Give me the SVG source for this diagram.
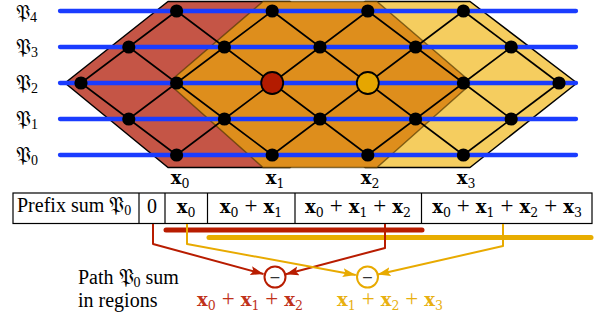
<svg xmlns="http://www.w3.org/2000/svg" width="606" height="322" viewBox="0 0 606 322">
<style>
.lat{fill:none;stroke:#000;stroke-width:1.6;stroke-linejoin:round}
.blue{stroke:#1a3cff;stroke-width:4.3;stroke-linecap:round}
.nd{fill:#000}
.t{font-family:"Liberation Serif","Times New Roman",serif;font-size:20px;fill:#000}
.frak{font-family:"DejaVu Sans","DejaVu Serif","Noto Sans",serif}
.m{font-family:"DejaVu Serif","Liberation Serif",serif;font-size:18px;fill:#000}
.b{font-weight:bold}
.s{font-size:12.5px;font-weight:normal}
.p{font-family:"Liberation Serif",serif;font-size:23px;font-weight:normal}
.cell{fill:#fff;stroke:#000;stroke-width:1.2}
.ar{fill:none;stroke-width:2;stroke-linejoin:round}
</style>
<defs>
<marker id="ahR" markerUnits="userSpaceOnUse" markerWidth="14" markerHeight="10" refX="13" refY="5" orient="auto">
<path d="M0,0.5 L13,5 L0,9.5 L2.5,5 z" fill="#b81c00"/>
</marker>
<marker id="ahY" markerUnits="userSpaceOnUse" markerWidth="14" markerHeight="10" refX="13" refY="5" orient="auto">
<path d="M0,0.5 L13,5 L0,9.5 L2.5,5 z" fill="#e8aa00"/>
</marker>
</defs>
<rect width="606" height="322" fill="#fff"/>

<g id="regions">
<polygon id="region-red" points="65,83 168,1.5 290,1.5 385,83 290,167.5 168,167.5" fill="#c55546" stroke="#000" stroke-width="1.5" stroke-linejoin="round"/>
<polygon id="region-yellow" points="258,83 365,1.5 470,1.5 577,83 470,167.5 365,167.5" fill="#f5cd5f" stroke="#000" stroke-width="1.5" stroke-linejoin="round"/>
<polygon id="region-orange" points="168,83 263,1.5 377,1.5 472,83 377,167.5 263,167.5" fill="#de8e1c" stroke="#4a3400" stroke-opacity="0.65" stroke-width="1.5" stroke-linejoin="round"/>
</g>

<g id="connectors">
<polyline class="lat" points="81,83 128.8,47 176.6,11"/>
<polyline class="lat" points="128.8,119 176.6,83 224.4,47 272.2,11"/>
<polyline class="lat" points="176.6,155 224.4,119 272.2,83 320,47 367.8,11"/>
<polyline class="lat" points="272.2,155 320,119 367.8,83 415.6,47 463.4,11"/>
<polyline class="lat" points="367.8,155 415.6,119 463.4,83 511.2,47"/>
<polyline class="lat" points="463.4,155 511.2,119 559,83"/>
<polyline class="lat" points="81,83 128.8,119 176.6,155"/>
<polyline class="lat" points="128.8,47 176.6,83 224.4,119 272.2,155"/>
<polyline class="lat" points="176.6,11 224.4,47 272.2,83 320,119 367.8,155"/>
<polyline class="lat" points="272.2,11 320,47 367.8,83 415.6,119 463.4,155"/>
<polyline class="lat" points="367.8,11 415.6,47 463.4,83 511.2,119"/>
<polyline class="lat" points="463.4,11 511.2,47 559,83"/>
</g>

<g id="paths">
<line class="blue" x1="60" y1="11" x2="576" y2="11"/>
<line class="blue" x1="60" y1="47" x2="576" y2="47"/>
<line class="blue" x1="60" y1="83" x2="576" y2="83"/>
<line class="blue" x1="60" y1="119" x2="576" y2="119"/>
<line class="blue" x1="60" y1="155" x2="576" y2="155"/>
</g>

<g id="nodes">
<g id="n-2-4"><circle class="nd" cx="176.6" cy="11" r="6.6"/></g>
<g id="n-4-4"><circle class="nd" cx="272.2" cy="11" r="6.6"/></g>
<g id="n-6-4"><circle class="nd" cx="367.8" cy="11" r="6.6"/></g>
<g id="n-8-4"><circle class="nd" cx="463.4" cy="11" r="6.6"/></g>
<g id="n-1-3"><circle class="nd" cx="128.8" cy="47" r="6.6"/></g>
<g id="n-3-3"><circle class="nd" cx="224.4" cy="47" r="6.6"/></g>
<g id="n-5-3"><circle class="nd" cx="320" cy="47" r="6.6"/></g>
<g id="n-7-3"><circle class="nd" cx="415.6" cy="47" r="6.6"/></g>
<g id="n-9-3"><circle class="nd" cx="511.2" cy="47" r="6.6"/></g>
<g id="n-0-2"><circle class="nd" cx="81" cy="83" r="6.6"/></g>
<g id="n-2-2"><circle class="nd" cx="176.6" cy="83" r="6.6"/></g>
<g id="n-4-2"><circle cx="272.2" cy="83" r="11" fill="#b31b00" stroke="#000" stroke-width="1.8"/></g>
<g id="n-6-2"><circle cx="367.8" cy="83" r="11" fill="#e6a600" stroke="#000" stroke-width="1.8"/></g>
<g id="n-8-2"><circle class="nd" cx="463.4" cy="83" r="6.6"/></g>
<g id="n-10-2"><circle class="nd" cx="559" cy="83" r="6.6"/></g>
<g id="n-1-1"><circle class="nd" cx="128.8" cy="119" r="6.6"/></g>
<g id="n-3-1"><circle class="nd" cx="224.4" cy="119" r="6.6"/></g>
<g id="n-5-1"><circle class="nd" cx="320" cy="119" r="6.6"/></g>
<g id="n-7-1"><circle class="nd" cx="415.6" cy="119" r="6.6"/></g>
<g id="n-9-1"><circle class="nd" cx="511.2" cy="119" r="6.6"/></g>
<g id="n-2-0"><circle class="nd" cx="176.6" cy="155" r="6.6"/></g>
<g id="n-4-0"><circle class="nd" cx="272.2" cy="155" r="6.6"/></g>
<g id="n-6-0"><circle class="nd" cx="367.8" cy="155" r="6.6"/></g>
<g id="n-8-0"><circle class="nd" cx="463.4" cy="155" r="6.6"/></g>
</g>

<g id="row-labels">
<text x="16" y="19" class="t"><tspan class="frak" font-size="20">𝔓</tspan><tspan font-size="14" dy="3">4</tspan></text>
<text x="16" y="54" class="t"><tspan class="frak" font-size="21">𝔓</tspan><tspan font-size="14" dy="3">3</tspan></text>
<text x="16" y="90" class="t"><tspan class="frak" font-size="21">𝔓</tspan><tspan font-size="14" dy="3">2</tspan></text>
<text x="16" y="126" class="t"><tspan class="frak" font-size="21">𝔓</tspan><tspan font-size="14" dy="3">1</tspan></text>
<text x="16" y="162" class="t"><tspan class="frak" font-size="21">𝔓</tspan><tspan font-size="14" dy="3">0</tspan></text>
</g>

<g id="col-labels">
<text class="m" x="180" y="184" text-anchor="middle"><tspan class="b">x</tspan><tspan class="s" dy="4">0</tspan></text>
<text class="m" x="275" y="184" text-anchor="middle"><tspan class="b">x</tspan><tspan class="s" dy="4">1</tspan></text>
<text class="m" x="370" y="184" text-anchor="middle"><tspan class="b">x</tspan><tspan class="s" dy="4">2</tspan></text>
<text class="m" x="466" y="184" text-anchor="middle"><tspan class="b">x</tspan><tspan class="s" dy="4">3</tspan></text>
</g>

<g id="table">
<rect class="cell" x="13" y="193" width="579" height="30.5"/>
<line stroke="#000" stroke-width="1.2" x1="139" y1="193" x2="139" y2="223.5"/>
<line stroke="#000" stroke-width="1.2" x1="165" y1="193" x2="165" y2="223.5"/>
<line stroke="#000" stroke-width="1.2" x1="207.5" y1="193" x2="207.5" y2="223.5"/>
<line stroke="#000" stroke-width="1.2" x1="295" y1="193" x2="295" y2="223.5"/>
<line stroke="#000" stroke-width="1.2" x1="421.5" y1="193" x2="421.5" y2="223.5"/>
<text class="t" x="17" y="212">Prefix sum <tspan class="frak" font-size="21">𝔓</tspan><tspan font-size="14" dy="3">0</tspan></text>
<text class="t" x="152" y="213" text-anchor="middle" font-size="21">0</text>
<text class="m" x="186" y="213" text-anchor="middle"><tspan class="b">x</tspan><tspan class="s" dy="4">0</tspan></text>
<text class="m" x="251" y="213" text-anchor="middle"><tspan class="b">x</tspan><tspan class="s" dy="4">0</tspan><tspan class="p" dy="-4" dx="6">+</tspan><tspan class="b" dx="6">x</tspan><tspan class="s" dy="4">1</tspan></text>
<text class="m" x="358" y="213" text-anchor="middle"><tspan class="b">x</tspan><tspan class="s" dy="4">0</tspan><tspan class="p" dy="-4" dx="6">+</tspan><tspan class="b" dx="6">x</tspan><tspan class="s" dy="4">1</tspan><tspan class="p" dy="-4" dx="6">+</tspan><tspan class="b" dx="6">x</tspan><tspan class="s" dy="4">2</tspan></text>
<text class="m" x="507" y="213" text-anchor="middle"><tspan class="b">x</tspan><tspan class="s" dy="4">0</tspan><tspan class="p" dy="-4" dx="6">+</tspan><tspan class="b" dx="6">x</tspan><tspan class="s" dy="4">1</tspan><tspan class="p" dy="-4" dx="6">+</tspan><tspan class="b" dx="6">x</tspan><tspan class="s" dy="4">2</tspan><tspan class="p" dy="-4" dx="6">+</tspan><tspan class="b" dx="6">x</tspan><tspan class="s" dy="4">3</tspan></text>
</g>

<g id="bars">
<line x1="166" y1="230" x2="422" y2="230" stroke="#b81c00" stroke-width="5" stroke-linecap="round"/>
<line x1="209" y1="237.5" x2="591" y2="237.5" stroke="#e8ad00" stroke-width="5" stroke-linecap="round"/>
</g>

<g id="arrows">
<polyline class="ar" stroke="#b81c00" points="153,224 153,244 263.5,274" marker-end="url(#ahR)"/>
<polyline class="ar" stroke="#b81c00" points="385,224 385,248 285.7,274.2" marker-end="url(#ahR)"/>
<polyline class="ar" stroke="#e8aa00" points="187,224 187,244 355.8,275" marker-end="url(#ahY)"/>
<polyline class="ar" stroke="#e8aa00" points="503,224 503,246 377.6,274.5" marker-end="url(#ahY)"/>
</g>

<g id="minus-red">
<circle cx="275" cy="277" r="10.5" fill="#fff" stroke="#b81c00" stroke-width="2"/>
<text x="275" y="282" text-anchor="middle" font-family="DejaVu Sans, sans-serif" font-size="14" fill="#333">−</text>
</g>
<g id="minus-yellow">
<circle cx="367.5" cy="277" r="10.5" fill="#fff" stroke="#e8aa00" stroke-width="2"/>
<text x="367.5" y="282" text-anchor="middle" font-family="DejaVu Sans, sans-serif" font-size="14" fill="#333">−</text>
</g>

<g id="caption">
<text class="t" x="78" y="284">Path <tspan class="frak" font-size="21">𝔓</tspan><tspan font-size="14" dy="3">0</tspan><tspan dy="-3"> sum</tspan></text>
<text class="t" x="78" y="307">in regions</text>
<text class="m" x="250" y="306" text-anchor="middle" style="fill:#c0321a"><tspan class="b">x</tspan><tspan class="s" dy="4">0</tspan><tspan class="p" dy="-4" dx="6">+</tspan><tspan class="b" dx="6">x</tspan><tspan class="s" dy="4">1</tspan><tspan class="p" dy="-4" dx="6">+</tspan><tspan class="b" dx="6">x</tspan><tspan class="s" dy="4">2</tspan></text>
<text class="m" x="390" y="306" text-anchor="middle" style="fill:#e8b010"><tspan class="b">x</tspan><tspan class="s" dy="4">1</tspan><tspan class="p" dy="-4" dx="6">+</tspan><tspan class="b" dx="6">x</tspan><tspan class="s" dy="4">2</tspan><tspan class="p" dy="-4" dx="6">+</tspan><tspan class="b" dx="6">x</tspan><tspan class="s" dy="4">3</tspan></text>
</g>
</svg>
